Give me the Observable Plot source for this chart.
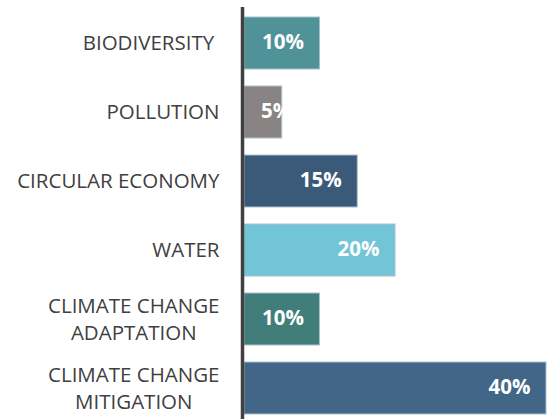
<!DOCTYPE html>
<html>
<head>
<meta charset="utf-8">
<script src="https://cdn.jsdelivr.net/npm/d3@7"></script>
<script src="https://cdn.jsdelivr.net/npm/@observablehq/plot@0.6"></script>
<style>
  html, body { margin: 0; padding: 0; background: #fff; }
  #chart svg { display: block; }
  #chart text { white-space: pre; }
</style>
</head>
<body>
<div id="chart"></div>
<script>
const categories = [
  "BIODIVERSITY ",
  "POLLUTION",
  "CIRCULAR ECONOMY",
  "WATER",
  "CLIMATE CHANGE\nADAPTATION",
  "CLIMATE CHANGE\nMITIGATION"
];
const values = [10, 5, 15, 20, 10, 40];
const valueLabels = ["10%", "5%", "15%", "20%", "10%", "40%"];
const palette = ["#4F9399", "#898483", "#3B5A7A", "#72C4D7", "#417E7A", "#416688"];

const data = categories.map((c, i) => ({category: c, value: values[i], label: valueLabels[i]}));

const font = "'Open Sans', 'Noto Sans', sans-serif";

const chart = Plot.plot({
  width: 551,
  height: 419,
  marginLeft: 244,
  marginRight: 5,
  marginTop: 7,
  marginBottom: 0,
  style: {fontFamily: font, background: "#fff"},
  x: {domain: [0, 40], axis: null},
  y: {domain: categories, range: [7, 424], paddingInner: 0.25, paddingOuter: 0.125, axis: null},
  color: {domain: categories, range: palette},
  marks: [
    Plot.barX(data, {
      x: "value", y: "category", fill: "category",
      stroke: "#A9C1CC", strokeWidth: 1
    }),
    Plot.text(data.filter(d => d.value >= 8), {
      x: "value", y: "category", text: "label",
      textAnchor: "end", dx: -16, dy: -1, fill: "#fff",
      fontWeight: "bold", fontSize: 20.5
    }),
    Plot.text(data.filter(d => d.value < 8), {
      x: "value", y: "category", text: "label",
      textAnchor: "end", dx: 9, dy: -1, fill: "#fff",
      fontWeight: "bold", fontSize: 20.5
    }),
    Plot.axisY({
      tickSize: 0, tickPadding: 25, fontSize: 20.5, lineHeight: 1.32, dy: -2,
      color: "#404040", label: null
    }),
    Plot.ruleX([0], {stroke: "#404040", strokeWidth: 3.5, dx: -2})
  ]
});

document.getElementById("chart").appendChild(chart);

// Center multi-line category labels on their widest line (right edge stays fixed)
chart.querySelectorAll("text").forEach(t => {
  const spans = t.querySelectorAll("tspan");
  if (spans.length > 1) {
    const w = Math.max(...[...spans].map(s => s.getComputedTextLength()));
    t.setAttribute("text-anchor", "middle");
    spans.forEach(s => s.setAttribute("x", -w / 2));
  }
});
</script>
</body>
</html>
